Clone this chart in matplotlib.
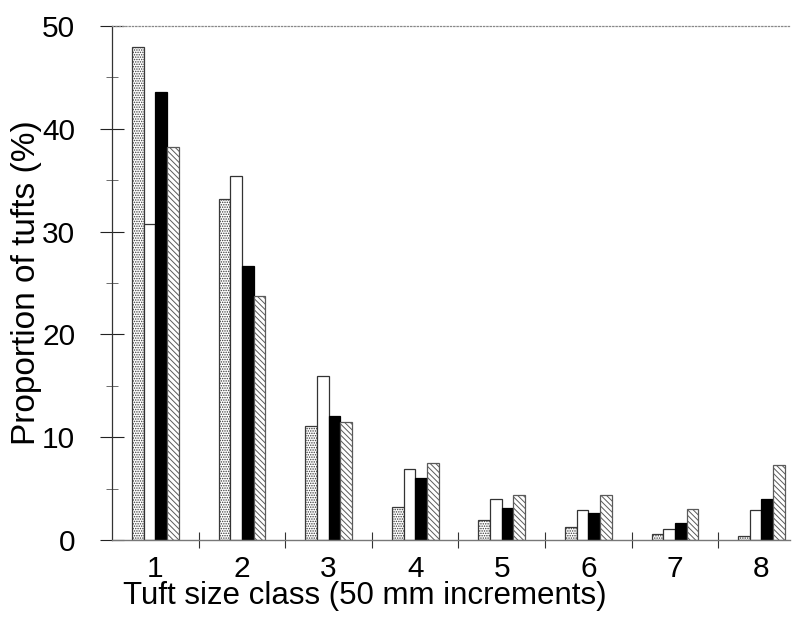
import numpy as np
import matplotlib
matplotlib.use("Agg")
import matplotlib.pyplot as plt
from matplotlib.ticker import MultipleLocator, FixedLocator

plt.rcParams['font.family'] = ['Liberation Sans', 'DejaVu Sans']
plt.rcParams['hatch.linewidth'] = 0.7

# tuft size classes and the four series
classes = [1, 2, 3, 4, 5, 6, 7, 8]
stippled = [48.0, 33.2, 11.1, 3.2, 1.9, 1.3, 0.6, 0.35]
white = [30.7, 35.4, 16.0, 6.9, 4.0, 2.9, 1.1, 2.9]
black = [43.6, 26.7, 12.1, 6.0, 3.1, 2.6, 1.7, 4.0]
hatched = [38.2, 23.7, 11.5, 7.5, 4.4, 4.4, 3.0, 7.3]

fig = plt.figure(figsize=(7.94, 6.19), dpi=100)
ax = fig.add_axes([0.141, 0.1276, 0.854, 0.8304])

x = np.array(classes, dtype=float)
w = 0.135

ax.bar(x - 1.5 * w, stippled, w, facecolor='white', edgecolor='#3a3a3a',
       hatch='.......', linewidth=0.9)
ax.bar(x - 0.5 * w, white, w, facecolor='white', edgecolor='#333333',
       linewidth=0.9)
ax.bar(x + 0.5 * w, black, w, facecolor='black', edgecolor='black',
       linewidth=0.9)
ax.bar(x + 1.5 * w, hatched, w, facecolor='white', edgecolor='#5a5a5a',
       hatch='\\\\\\\\\\\\', linewidth=0.9)

ax.set_xlim(0.497, 8.33)
ax.set_ylim(0, 50)

ax.yaxis.set_major_locator(MultipleLocator(10))
ax.yaxis.set_minor_locator(MultipleLocator(5))
ax.xaxis.set_major_locator(FixedLocator(classes))
ax.xaxis.set_minor_locator(FixedLocator([c + 0.5 for c in classes[:-1]]))

ax.tick_params(axis='y', which='major', direction='inout', length=17,
               width=0.8, labelsize=21.5, pad=18, color='#222222')
ax.tick_params(axis='y', which='minor', direction='inout', length=8,
               width=0.6, color='#555555')
ax.tick_params(axis='x', which='major', length=0, labelsize=21.5, pad=11)
ax.tick_params(axis='x', which='minor', direction='inout', length=12,
               width=0.8, color='#333333')

ax.spines['right'].set_visible(False)
ax.spines['top'].set_linestyle(':')
ax.spines['top'].set_color('#888888')
ax.spines['top'].set_linewidth(0.9)
ax.spines['left'].set_color('#333333')
ax.spines['left'].set_linewidth(0.9)
ax.spines['bottom'].set_color('#777777')
ax.spines['bottom'].set_linewidth(1.0)

ax.set_xlabel('Tuft size class (50 mm increments)', fontsize=22.5,
              x=0.373, labelpad=-2)
ax.set_ylabel('Proportion of tufts (%)', fontsize=24, labelpad=0)

fig.savefig('out.png', dpi=100)
